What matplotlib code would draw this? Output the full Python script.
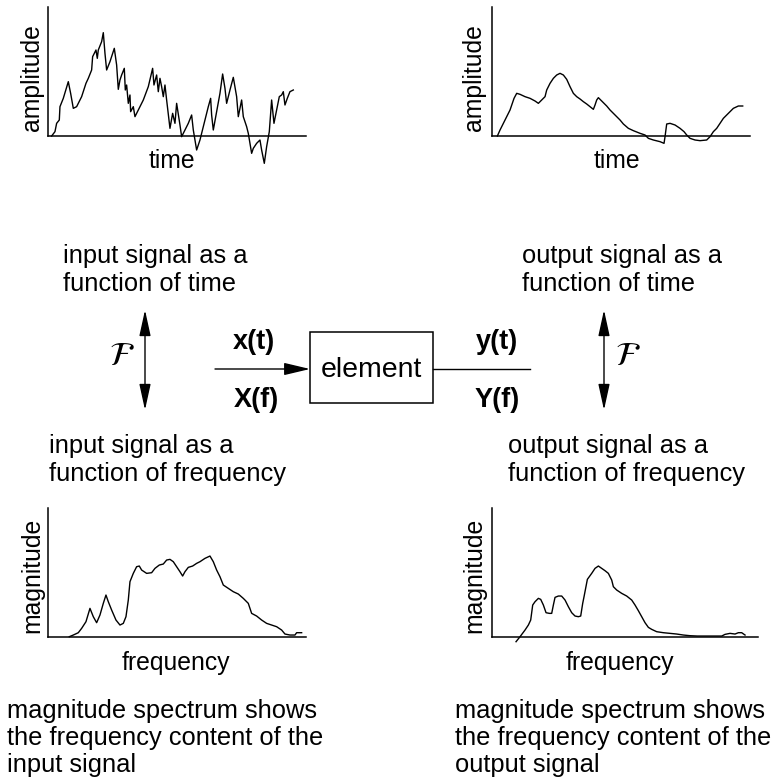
import matplotlib
matplotlib.use('Agg')
import matplotlib.pyplot as plt
from matplotlib.patches import FancyArrowPatch, Rectangle

plt.rcParams['font.family'] = ['Liberation Sans', 'DejaVu Sans']
plt.rcParams['mathtext.fontset'] = 'stix'

# ---------------- data (arbitrary units) ----------------
tl_time = [10, 20, 25, 33, 35, 45, 60, 67, 75, 85, 100, 113, 120, 130, 133, 143, 147, 150, 160, 165,
           170, 175, 185, 198, 205, 210, 215, 220, 228, 231, 235, 240, 245, 247, 255, 260, 270, 285,
           300, 313, 317, 325, 330, 335, 340, 345, 350, 355, 365, 373, 380, 385, 395, 400, 410, 420,
           430, 435, 445, 455, 465, 480, 487, 490, 495, 505, 515, 523, 530, 535, 545, 555, 565, 570,
           580, 585, 595, 600, 610, 615, 625, 635, 640, 648, 655, 663, 670, 677, 685, 693, 700, 705,
           710, 717, 725, 735]
tl_amp = [0, 13, 38, 48, 88, 113, 163, 128, 83, 88, 118, 158, 173, 198, 238, 258, 233, 258, 283, 310,
          248, 198, 223, 263, 213, 140, 168, 183, 203, 138, 153, 98, 123, 73, 88, 58, 78, 108,
          148, 203, 153, 183, 133, 173, 148, 118, 153, 108, 23, 68, 38, 98, 33, -2, 18, 38,
          63, 18, -42, -12, 28, 88, 113, 63, 18, 73, 128, 186, 143, 98, 138, 176, 118, 58,
          108, 58, 28, 8, -52, -37, -22, -12, -42, -82, -32, 13, 108, 38, 78, 118, 123, 133,
          93, 113, 133, 138]

tr_time = [17, 25, 40, 55, 67, 75, 85, 100, 115, 130, 140, 150, 160, 165, 175, 185, 195, 205, 215, 225,
           235, 245, 255, 265, 275, 285, 295, 305, 310, 315, 320, 330, 345, 355, 370, 385, 395, 410,
           425, 445, 460, 470, 485, 505, 517, 520, 525, 535, 550, 565, 577, 585, 595, 610, 625, 645,
           655, 665, 675, 685, 695, 710, 725, 740, 753]
tr_amp = [0, 18, 48, 78, 113, 128, 125, 118, 113, 105, 98, 108, 118, 138, 158, 173, 183, 188, 183, 170,
          148, 128, 118, 111, 103, 96, 88, 80, 93, 108, 115, 105, 90, 78, 63, 48, 36, 23,
          16, 8, 3, -7, -12, -17, -22, -2, 36, 38, 33, 23, 13, 3, -7, -12, -14, -12,
          -2, 13, 23, 38, 53, 68, 83, 90, 90]

bl_freq = [63, 75, 90, 100, 113, 125, 135, 145, 155, 165, 173, 180, 190, 203, 215, 225, 233, 240, 245,
           255, 265, 273, 280, 295, 310, 320, 333, 345, 355, 365, 375, 385, 395, 403, 410, 420, 433,
           445, 455, 470, 485, 495, 505, 515, 525, 540, 555, 570, 585, 600, 610, 625, 640, 655, 670,
           685, 700, 710, 725, 740, 745, 760]
bl_mag = [0, 5, 12, 25, 45, 85, 60, 42, 65, 100, 125, 105, 80, 50, 35, 40, 60, 110, 165,
          190, 210, 212, 200, 190, 192, 205, 215, 218, 230, 232, 225, 210, 195, 182, 195, 208, 212,
          220, 225, 235, 242, 225, 200, 180, 155, 145, 135, 128, 115, 100, 70, 62, 50, 40, 35,
          30, 20, 8, 5, 5, 12, 12]

br_freq = [73, 85, 100, 110, 117, 123, 130, 140, 147, 155, 163, 173, 180, 185, 190, 200, 210, 220, 230,
           240, 250, 260, 267, 273, 277, 287, 300, 310, 320, 330, 340, 350, 360, 365, 375, 390, 405,
           420, 430, 440, 450, 460, 470, 480, 495, 515, 535, 555, 575, 595, 617, 690, 700, 715, 730,
           740, 750, 760]
br_mag = [-15, 0, 20, 35, 50, 95, 105, 115, 112, 95, 72, 70, 70, 95, 118, 122, 122, 110, 90,
          72, 62, 60, 62, 100, 120, 172, 190, 205, 212, 205, 198, 190, 170, 150, 140, 130, 122,
          110, 95, 78, 60, 42, 28, 22, 15, 12, 10, 8, 5, 3, 2, 2, 7, 10, 8,
          12, 12, 5]

# ---------------- figure ----------------
W, H = 776, 778
fig = plt.figure(figsize=(W / 100, H / 100), dpi=100)
ax = fig.add_axes([0, 0, 1, 1])
ax.set_xlim(0, W)
ax.set_ylim(H, 0)
ax.axis('off')

S = 3.0  # data units per pixel in the small plots


def small_plot(x0, y0, w, h, below, xs, ys):
    a = fig.add_axes([x0 / W, (H - y0 - below) / H, w / W, (h + below) / H])
    a.set_xlim(0, w * S)
    a.set_ylim(-below * S, h * S)
    a.patch.set_alpha(0)
    for s in ('top', 'right'):
        a.spines[s].set_visible(False)
    a.spines['left'].set_bounds(0, h * S)
    a.spines['bottom'].set_position(('data', 0))
    for s in ('left', 'bottom'):
        a.spines[s].set_linewidth(1.1)
    a.set_xticks([])
    a.set_yticks([])
    a.plot(xs, ys, color='black', lw=1.0, clip_on=False)
    return a


small_plot(48.3, 136, 257.7, 129.3, 32, tl_time, tl_amp)
small_plot(491.7, 136, 258.3, 129.3, 32, tr_time, tr_amp)
small_plot(48.3, 636.7, 257.7, 128.3, 10, bl_freq, bl_mag)
small_plot(491.7, 636.7, 266.7, 128.3, 10, br_freq, br_mag)

FS = 18.4
LFS = 17.8
DFS = 20.5

# axis labels
for x, y, s in [(32, 78, 'amplitude'), (474, 78, 'amplitude'),
                (32, 575, 'magnitude'), (474, 575, 'magnitude')]:
    ax.text(x, y, s, rotation=90, ha='center', va='center', fontsize=LFS)
for x, y, s in [(172, 168, 'time'), (617, 168, 'time'),
                (176, 670, 'frequency'), (620, 670, 'frequency')]:
    ax.text(x, y, s, ha='center', va='baseline', fontsize=LFS)

# descriptive text blocks
blocks = [
    (63, [263, 291], ['input signal as a', 'function of time']),
    (522, [263, 291], ['output signal as a', 'function of time']),
    (49, [453, 481], ['input signal as a', 'function of frequency']),
    (508, [453, 481], ['output signal as a', 'function of frequency']),
    (7, [718, 745, 772], ['magnitude spectrum shows', 'the frequency content of the', 'input signal']),
    (455, [718, 745, 772], ['magnitude spectrum shows', 'the frequency content of the', 'output signal']),
]
for x, ys, lines in blocks:
    for y, s in zip(ys, lines):
        ax.text(x, y, s, ha='left', va='baseline', fontsize=FS)

# Fourier double arrows
for x in (145, 604):
    ax.add_patch(FancyArrowPatch((x, 410), (x, 310), arrowstyle='<|-|>,head_length=1.6,head_width=0.35',
                                 mutation_scale=10, color='black', lw=1.0, shrinkA=0, shrinkB=0))
for x in (122, 628):
    ax.text(x, 356, r'$\mathcal{F}$', ha='center', va='center', fontsize=24)

# block diagram
ax.add_patch(Rectangle((310, 332), 123, 71, fill=False, edgecolor='black', lw=1.1))
ax.text(371, 377, 'element', ha='center', va='baseline', fontsize=DFS)
ax.add_patch(FancyArrowPatch((215, 369), (310, 369), arrowstyle='-|>,head_length=1.6,head_width=0.38',
                             mutation_scale=10, color='black', lw=1.0, shrinkA=0, shrinkB=0))
ax.plot([433, 530], [369, 369], color='black', lw=1.0)
LBL = dict(ha='center', va='baseline', fontsize=19.5, fontweight='bold')
ax.text(254, 349, 'x(t)', **LBL)
ax.text(256, 407, 'X(f)', **LBL)
ax.text(497, 349, 'y(t)', **LBL)
ax.text(497, 407, 'Y(f)', **LBL)

fig.savefig('out.png', dpi=100)
